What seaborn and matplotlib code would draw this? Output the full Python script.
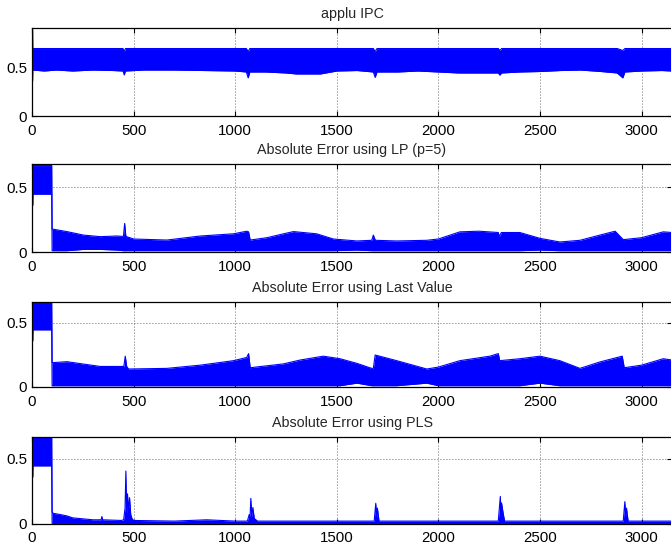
import matplotlib
matplotlib.use("Agg")
import matplotlib.pyplot as plt
import seaborn as sns
import numpy as np
import pandas as pd

# ---- envelope knots (sample index, upper / lower value) ----
ipc_x  = [0, 3, 4, 60, 120, 200, 300, 400, 448, 454, 460, 550, 700, 850, 1000, 1055, 1064, 1072,
          1150, 1250, 1300, 1420, 1500, 1600, 1680, 1689, 1698, 1800, 1900, 2000, 2100, 2200,
          2295, 2303, 2311, 2400, 2500, 2600, 2700, 2800, 2880, 2908, 2918, 3000, 3100, 3150]
ipc_hi = [0.88, 0.88, 0.69, 0.69, 0.69, 0.69, 0.69, 0.69, 0.69, 0.66, 0.69, 0.69, 0.69, 0.69, 0.69,
          0.69, 0.66, 0.69, 0.69, 0.69, 0.69, 0.69, 0.69, 0.69, 0.69, 0.66, 0.69, 0.69, 0.69,
          0.69, 0.69, 0.69, 0.69, 0.67, 0.69, 0.69, 0.69, 0.69, 0.69, 0.69, 0.69, 0.67, 0.69,
          0.69, 0.69, 0.69]
ipc_lo = [0.36, 0.36, 0.47, 0.46, 0.47, 0.46, 0.47, 0.465, 0.46, 0.42, 0.46, 0.47, 0.47, 0.465,
          0.46, 0.45, 0.39, 0.45, 0.45, 0.44, 0.43, 0.43, 0.46, 0.465, 0.45, 0.395, 0.45, 0.45,
          0.46, 0.45, 0.44, 0.44, 0.44, 0.418, 0.44, 0.45, 0.455, 0.465, 0.47, 0.455, 0.44, 0.39,
          0.45, 0.46, 0.465, 0.46]

lp_x  = [0, 4, 5, 97, 99, 106, 172, 254, 336, 418, 450, 456, 462, 500, 664, 828, 992, 1057, 1066,
         1074, 1156, 1238, 1287, 1401, 1483, 1599, 1672, 1680, 1690, 1795, 1943, 2000, 2106, 2200,
         2295, 2300, 2310, 2401, 2500, 2598, 2697, 2795, 2870, 2910, 3000, 3107, 3150]
lp_hi = [0.665, 0.665, 0.665, 0.665, 0.175, 0.175, 0.157, 0.13, 0.118, 0.123, 0.12, 0.22, 0.12,
         0.10, 0.092, 0.123, 0.14, 0.16, 0.155, 0.092, 0.11, 0.14, 0.157, 0.14, 0.10, 0.085,
         0.09, 0.13, 0.09, 0.085, 0.09, 0.10, 0.155, 0.16, 0.15, 0.12, 0.15, 0.15, 0.105, 0.077,
         0.09, 0.13, 0.16, 0.095, 0.11, 0.155, 0.15]
lp_lo = [0.36, 0.36, 0.445, 0.445, 0.01, 0.01, 0.01, 0.02, 0.02, 0.015, 0.01, 0.01, 0.01, 0.01,
         0.01, 0.01, 0.01, 0.01, 0.01, 0.01, 0.01, 0.01, 0.01, 0.01, 0.01, 0.015, 0.01, 0.01,
         0.01, 0.01, 0.01, 0.01, 0.01, 0.01, 0.01, 0.01, 0.01, 0.01, 0.015, 0.01, 0.01, 0.01,
         0.01, 0.01, 0.01, 0.01, 0.01]

lv_x  = [0, 4, 5, 97, 99, 106, 172, 336, 434, 452, 459, 466, 475, 664, 828, 992, 1057, 1066,
         1074, 1238, 1320, 1434, 1516, 1599, 1672, 1680, 1689, 1795, 1943, 2000, 2106, 2254,
         2295, 2302, 2401, 2500, 2598, 2697, 2795, 2905, 2915, 3000, 3107, 3150]
lv_hi = [0.665, 0.665, 0.665, 0.665, 0.19, 0.19, 0.197, 0.16, 0.16, 0.16, 0.24, 0.16, 0.14, 0.145,
         0.17, 0.205, 0.23, 0.26, 0.15, 0.18, 0.21, 0.24, 0.22, 0.184, 0.145, 0.145, 0.249, 0.205,
         0.14, 0.155, 0.205, 0.24, 0.26, 0.205, 0.22, 0.24, 0.205, 0.145, 0.195, 0.24, 0.15, 0.17,
         0.22, 0.21]
lv_lo = [0.36, 0.36, 0.445, 0.445, 0.01, 0.01, 0.01, 0.01, 0.01, 0.01, 0.01, 0.01, 0.01, 0.01,
         0.01, 0.01, 0.01, 0.01, 0.01, 0.01, 0.01, 0.01, 0.01, 0.03, 0.01, 0.01, 0.01, 0.01,
         0.03, 0.01, 0.01, 0.01, 0.01, 0.01, 0.01, 0.03, 0.01, 0.01, 0.01, 0.01, 0.01, 0.01,
         0.01, 0.01]

pls_x  = [0, 4, 5, 97, 99, 104, 140, 172, 200, 300, 340, 344, 348, 440, 451, 458, 462, 466, 470,
          474, 480, 486, 492, 500, 700, 860, 1000, 1060, 1069, 1073, 1077, 1082, 1087, 1094, 1110,
          1400, 1684, 1692, 1696, 1700, 1708, 1900, 2295, 2305, 2309, 2311, 2319, 2326, 2600,
          2910, 2918, 2922, 2926, 2934, 3150]
pls_hi = [0.665, 0.665, 0.665, 0.665, 0.09, 0.08, 0.07, 0.06, 0.045, 0.03, 0.03, 0.055, 0.03,
          0.025, 0.03, 0.12, 0.405, 0.08, 0.23, 0.10, 0.20, 0.07, 0.04, 0.025, 0.02, 0.03, 0.02,
          0.02, 0.07, 0.04, 0.195, 0.05, 0.125, 0.04, 0.02, 0.02, 0.02, 0.157, 0.05, 0.12, 0.02,
          0.02, 0.02, 0.21, 0.06, 0.16, 0.08, 0.02, 0.02, 0.02, 0.17, 0.06, 0.12, 0.02, 0.02]
pls_lo = [0.36, 0.36, 0.445, 0.445] + [0.003] * 51

panels = [
    ("applu IPC", ipc_x, ipc_hi, ipc_lo, 0.9, (28, 116)),
    ("Absolute Error using LP (p=5)", lp_x, lp_hi, lp_lo, 0.677, (164, 252)),
    ("Absolute Error using Last Value", lv_x, lv_hi, lv_lo, 0.664, (301.7, 387)),
    ("Absolute Error using PLS", pls_x, pls_hi, pls_lo, 0.667, (437, 523.7)),
]

x_ticks = [0, 500, 1000, 1500, 2000, 2500, 3000]
y_ticks = [0, 0.5]
y_tick_labels = ["0", "0.5"]

sns.set_style("ticks")
plt.rcParams["font.family"] = ["Liberation Sans", "DejaVu Sans"]
plt.rcParams["xtick.direction"] = "in"
plt.rcParams["ytick.direction"] = "in"

W, H = 671, 547
fig = plt.figure(figsize=(W / 100, H / 100), dpi=100)
blue = (0, 0, 1)

for title, xs, hi, lo, ytop, (top_px, bot_px) in panels:
    ax = fig.add_axes([32 / W, 1 - bot_px / H, 640 / W, (bot_px - top_px) / H])
    df = pd.DataFrame({"x": xs, "hi": hi, "lo": lo})
    ax.fill_between(df["x"], df["lo"], df["hi"], color=blue, linewidth=0, zorder=2)
    sns.lineplot(data=df, x="x", y="hi", ax=ax, color=blue, linewidth=0.8, estimator=None, zorder=2)
    sns.lineplot(data=df, x="x", y="lo", ax=ax, color=blue, linewidth=0.8, estimator=None, zorder=2)
    ax.set_xlim(0, 3150)
    ax.set_ylim(0, ytop)
    ax.set_xticks(x_ticks)
    ax.set_yticks(y_ticks)
    ax.set_yticklabels(y_tick_labels)
    ax.set_xlabel("")
    ax.set_ylabel("")
    ax.set_axisbelow(True)
    ax.grid(True, linestyle=(0, (1, 2.6)), linewidth=0.6, color="#333333")
    ax.tick_params(axis="both", which="both", top=True, right=True, length=3.5,
                   width=0.8, labelsize=10.8, colors="black", pad=5.5)
    ax.tick_params(axis="y", pad=3.5)
    for s in ax.spines.values():
        s.set_visible(True)
        s.set_linewidth(0.9)
        s.set_color("black")
        s.set_zorder(3)
    ax.set_title(title, fontsize=10.3, pad=7)

fig.savefig("out.png", dpi=100)
